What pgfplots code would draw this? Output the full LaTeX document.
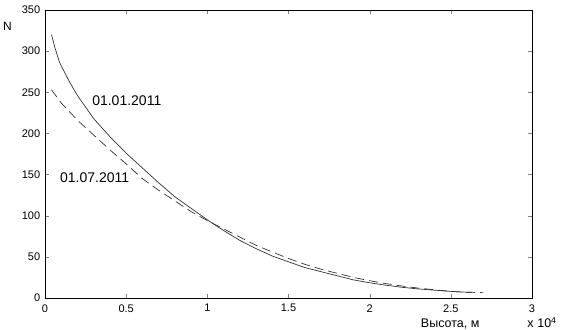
\documentclass[border=0pt]{standalone}
\usepackage{fontspec}
\setmainfont{Liberation Sans}
\usepackage{pgfplots}
\pgfplotsset{compat=1.18}
\begin{document}
\fontsize{14}{16}\selectfont
\begin{tikzpicture}
\begin{axis}[
  scale only axis,
  width=487pt, height=288pt,
  xmin=0, xmax=3, ymin=0, ymax=350,
  xtick={0,0.5,1,1.5,2,2.5,3},
  xticklabels={0,0.5,1,1.5,2,2.5,3},
  ytick={0,50,100,150,200,250,300,350},
  tick align=inside,
  major tick length=4pt,
  /pgf/number format/assume math mode=true,
  tick label style={font=\fontsize{11}{13}\selectfont},
  xticklabel style={yshift=-1.5pt},
  axis line style={line width=0.7pt},
  clip mode=individual,
]
\addplot[black!80, line width=0.7pt] coordinates {
(0.04,320) (0.06,305) (0.09,286) (0.15,263) (0.2,246) (0.3,218) (0.4,196)
(0.5,176) (0.6,158) (0.7,140) (0.8,123) (0.9,109) (1.0,95) (1.1,82)
(1.2,70) (1.3,60) (1.4,51) (1.5,44) (1.6,37) (1.7,32) (1.8,27) (1.9,22)
(2.0,18.5) (2.1,15.5) (2.2,13) (2.3,11) (2.4,9.5) (2.5,8) (2.6,7) (2.63,7)
};
\addplot[black!80, line width=0.7pt, dash pattern=on 9pt off 5pt] coordinates {
(0.04,253) (0.1,237) (0.2,216) (0.3,198) (0.4,180) (0.5,163) (0.6,145)
(0.7,131) (0.8,118) (0.9,105) (1.0,94) (1.1,84) (1.2,74) (1.3,64) (1.4,56)
(1.5,48) (1.6,41) (1.7,35) (1.8,30) (1.9,25) (2.0,21) (2.1,17.5) (2.2,14.5)
(2.3,12) (2.4,10) (2.5,8) (2.6,7) (2.7,6.5)
};
\node[anchor=west, inner sep=0pt] at (axis cs:0.29,240) {01.01.2011};
\node[anchor=west, inner sep=0pt] at (axis cs:0.092,146) {01.07.2011};
\node[inner sep=0pt, font=\fontsize{12}{14}\selectfont] at (axis description cs:-0.077,0.944) {N};
\node[inner sep=0pt, font=\fontsize{12.5}{14}\selectfont] at (axis description cs:0.832,-0.089) {Высота, м};
\node[anchor=west, inner sep=0pt, font=\fontsize{12.5}{14}\selectfont] at (axis description cs:0.99,-0.086) {x\hspace{0.3em}10\textsuperscript{4}};
\end{axis}
\pgfresetboundingbox
\path ([shift={(-45pt,-32pt)}]current axis.south west) rectangle ([shift={(37pt,10pt)}]current axis.north east);
\end{tikzpicture}
\end{document}
